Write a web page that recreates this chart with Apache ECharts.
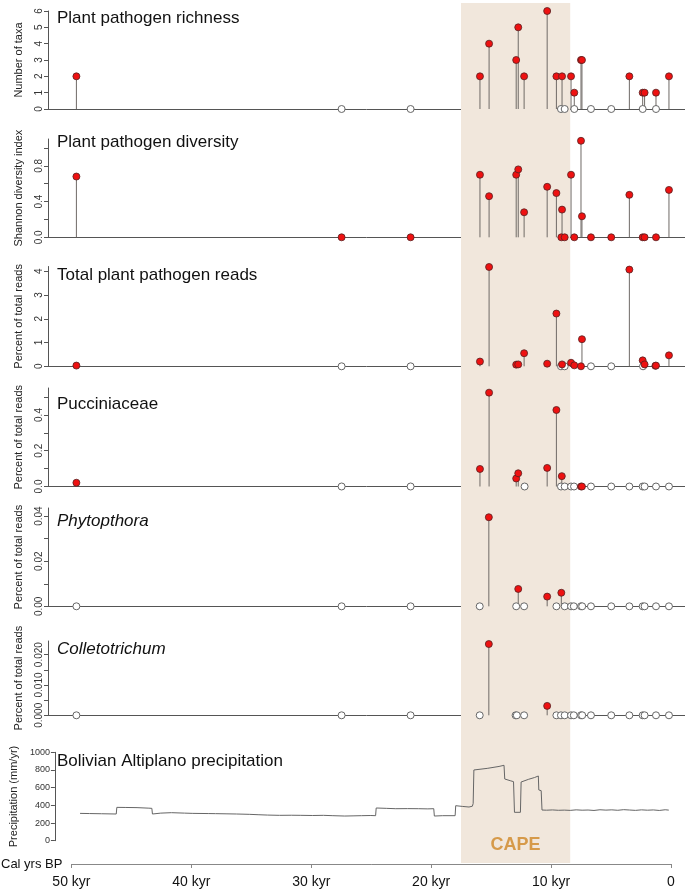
<!DOCTYPE html>
<html><head><meta charset="utf-8">
<script src="https://cdn.jsdelivr.net/npm/echarts@6/dist/echarts.min.js"></script>
<style>html,body{margin:0;padding:0;background:#fff}#c{width:685px;height:893px}</style>
</head><body><div id="c"></div>
<script>
// ---- data ----
const xTickValues = [0, 10, 20, 30, 40, 50];
const capeRange = [17.5, 8.4];

const richnessFilled = [[49.55,2],[15.92,2],[15.16,4],[12.9,3],[12.73,5],[12.24,2],[10.32,6],[9.55,2],[9.08,2],[8.33,2],[8.06,1],[7.5,3],[7.42,3],[3.47,2],[2.36,1],[2.2,1],[1.25,1],[0.17,2]];
const richnessOpen = [27.45,21.7,9.17,8.86,8.06,6.67,4.98,2.36,1.25];

const diversityFilled = [[49.55,0.68],[27.45,0],[21.7,0],[15.92,0.70],[15.16,0.46],[12.9,0.70],[12.73,0.76],[12.24,0.28],[10.32,0.565],[9.55,0.495],[9.08,0.31],[9.14,0],[8.86,0],[8.33,0.70],[8.06,0],[7.5,1.08],[7.42,0.235],[6.67,0],[4.98,0],[3.47,0.475],[2.36,0],[2.2,0],[1.25,0],[0.17,0.53]];
const diversityOpen = [];

const readsFilled = [[49.55,0.03],[15.92,0.2],[15.16,4.18],[12.9,0.07],[12.73,0.08],[12.24,0.55],[10.32,0.11],[9.55,2.22],[9.08,0.08],[8.33,0.15],[8.06,0.04],[7.5,0],[7.42,1.14],[3.47,4.07],[2.36,0.25],[2.2,0.08],[1.3,0.02],[1.25,0.03],[0.17,0.46]];
const readsOpen = [27.45,21.7,9.17,8.86,6.67,4.98,2.33];

const pucciniaceaeFilled = [[49.55,0.021],[15.92,0.098],[15.16,0.525],[12.9,0.045],[12.73,0.074],[10.32,0.104],[9.55,0.428],[9.1,0.058],[7.5,0],[7.42,0]];
const pucciniaceaeOpen = [27.45,21.7,12.2,9.17,8.86,8.33,8.08,6.67,4.98,3.47,2.36,2.2,1.25,0.17];

const phytoFilled = [[15.18,0.0395],[12.73,0.0077],[10.32,0.0043],[9.14,0.006]];
const phytoOpen = [49.55,27.45,21.7,15.94,12.9,12.24,9.55,8.86,8.33,8.1,7.5,7.4,6.67,4.98,3.47,2.36,2.2,1.25,0.17];

const colletoFilled = [[15.18,0.0235],[10.32,0.0031]];
const colletoOpen = [49.55,27.45,21.7,15.94,12.95,12.85,12.24,9.55,9.17,8.86,8.33,8.1,7.5,7.4,6.67,4.98,3.47,2.36,2.2,1.25,0.17];

const precipAge = [49.8,49.0,48.0,46.75,46.7,46.0,45.0,44.0,43.75,43.7,43.0,42.1,41.0,40.3,39.0,38.4,37.5,36.6,35.5,34.8,34.0,33.0,32.0,31.2,30.2,29.3,28.5,27.5,26.8,26.1,25.3,24.9,24.85,24.0,23.2,22.2,21.3,20.5,20.0,19.95,19.25,18.2,18.15,17.6,17.03,16.75,16.68,16.62,15.5,14.5,14.08,14.02,13.56,13.28,13.2,12.7,12.64,12.0,11.5,11.19,11.15,10.95,10.88,10.5,10.0,9.5,9.0,8.5,8.0,7.5,7.0,6.5,6.0,5.5,5.0,4.5,4.0,3.5,3.0,2.5,2.0,1.5,1.0,0.5,0.2];
const precipVal = [309,307,305,302,377,376,374,368,366,302,312,317,312,309,307,306,304,302,298,294,290,287,288,287,285,287,283,279,281,283,285,283,370,366,362,363,362,360,362,279,283,283,396,388,381,390,420,800,818,840,853,698,679,668,321,321,664,695,715,732,574,566,347,345,348,344,346,343,349,345,347,342,350,346,349,344,351,347,343,349,345,348,342,350,346];

const panelTitles = ['Plant pathogen richness','Plant pathogen diversity','Total plant pathogen reads','Pucciniaceae','Phytopthora','Colletotrichum','Bolivian Altiplano precipitation'];
const panelYNames = ['Number of taxa','Shannon diversity index','Percent of total reads','Percent of total reads','Percent of total reads','Percent of total reads','Precipitation (mm/yr)'];
const yTicks = [[0,1,2,3,4,5,6],[0,0.2,0.4,0.6,0.8,1.0],[0,1,2,3,4],[0,0.1,0.2,0.3,0.4,0.5],[0,0.01,0.02,0.03,0.04],[0,0.005,0.01,0.015,0.02],[0,200,400,600,800,1000]];
const yLabels = [[0,1,2,3,4,5,6],[0,0.4,0.8],[0,1,2,3,4],[0,0.2,0.4],[0,0.02,0.04],[0,0.01,0.02],[0,200,400,600,800,1000]];

// ---- layout ----
const yMax = [6, 1.1, 4.2, 0.551, 0.0436, 0.0245, 1000];
const labelDecimals = [0,1,0,1,2,3,0];
const gridTop = [11, 139, 266.5, 388, 508, 641, 752.3];
const gridBase = [109, 237.3, 366.3, 486.5, 606.3, 715.3, 840.7];
const titleTop = [10, 134, 267, 396, 513, 641, 753];
const X_MIN = -1.1667, X_MAX = 51.9167;

const filledSets = [richnessFilled, diversityFilled, readsFilled, pucciniaceaeFilled, phytoFilled, colletoFilled];
const openSets = [richnessOpen, diversityOpen, readsOpen, pucciniaceaeOpen, phytoOpen, colletoOpen];

const FONT = 'Liberation Sans, Arial, sans-serif';
const grids = [], xAxes = [], yAxes = [], series = [], titles = [];

for (let i = 0; i < 7; i++) {
  grids.push({left: 48, right: 0, top: gridTop[i], height: gridBase[i] - gridTop[i]});
  xAxes.push({type:'value', gridIndex:i, min:X_MIN, max:X_MAX, inverse:true,
    axisLine:{show: i < 6, onZero:false, lineStyle:{color:'#555', width:1}},
    axisTick:{show:false}, axisLabel:{show:false}, splitLine:{show:false}});
  const dec = labelDecimals[i];
  yAxes.push({type:'value', gridIndex:i, min:0, max:yMax[i], position:'left',
    name: panelYNames[i], nameLocation:'middle', nameRotate:90, nameGap: i===6 ? 28 : 24,
    nameTextStyle:{fontSize:11, color:'#222', fontFamily:FONT},
    axisLine:{show:true, onZero:false, lineStyle:{color:'#555', width:1}},
    axisTick:{show:true, length:4, lineStyle:{color:'#555'}, customValues: yTicks[i]},
    axisLabel:{show:true, rotate: i===6 ? 0 : 90, fontSize: i===6 ? 9 : 10, color:'#333', margin: i===6 ? 5 : 4,
      fontFamily:FONT, customValues: yLabels[i], formatter: v => Number(v).toFixed(dec)},
    splitLine:{show:false}});
  titles.push({text: panelTitles[i], left: 57, top: titleTop[i], padding:0,
    textStyle:{fontSize:17, fontWeight:'normal', color:'#111', fontFamily:FONT, fontStyle: (i===4||i===5)?'italic':'normal'}});
}

for (let i = 0; i < 6; i++) {
  series.push({type:'custom', xAxisIndex:i, yAxisIndex:i, data: filledSets[i], z:3,
    renderItem: (params, api) => {
      const p0 = api.coord([api.value(0), 0]);
      const p1 = api.coord([api.value(0), api.value(1)]);
      return {type:'line', shape:{x1:p0[0], y1:p0[1], x2:p1[0], y2:p1[1]}, style:{stroke:'#6f6a66', lineWidth:1}};
    }, encode:{x:0, y:1}, silent:true});
  series.push({type:'scatter', xAxisIndex:i, yAxisIndex:i, data: openSets[i].map(a => [a, 0]), clip:false, z:4,
    symbol:'circle', symbolSize:7, itemStyle:{color:'#ffffff', borderColor:'#666', borderWidth:1, opacity:1}, silent:true});
  series.push({type:'scatter', xAxisIndex:i, yAxisIndex:i, data: filledSets[i], clip:false, z:5,
    symbol:'circle', symbolSize:7, itemStyle:{color:'#ee1111', borderColor:'#552222', borderWidth:0.8, opacity:1}, silent:true});
}
series.push({type:'line', xAxisIndex:6, yAxisIndex:6, data: precipAge.map((a, k) => [a, precipVal[k]]),
  showSymbol:false, lineStyle:{color:'#666', width:1}, z:3, silent:true});

// bottom age axis
grids.push({left:71, width:600, top:800, height:64});
xAxes.push({type:'value', gridIndex:7, min:0, max:50, interval:10, inverse:true,
  name:'Cal yrs BP', nameLocation:'end', nameGap:9,
  nameTextStyle:{fontSize:13, color:'#111', fontFamily:FONT, verticalAlign:'middle'},
  axisLine:{show:true, onZero:false, lineStyle:{color:'#888', width:1}},
  axisTick:{show:true, length:4, inside:false, lineStyle:{color:'#888'}},
  axisLabel:{show:true, fontSize:14, color:'#111', margin:11, fontFamily:FONT, customValues: xTickValues,
    formatter: v => v === 0 ? '0' : v + ' kyr'},
  splitLine:{show:false}});
yAxes.push({type:'value', gridIndex:7, min:0, max:1, show:false});
series.push({type:'scatter', xAxisIndex:7, yAxisIndex:7, data:[], silent:true});

// CAPE band background
grids.push({left:48, right:0, top:3, height:860});
xAxes.push({type:'value', gridIndex:8, min:X_MIN, max:X_MAX, inverse:true, show:false});
yAxes.push({type:'value', gridIndex:8, min:0, max:1, show:false});
series.push({type:'scatter', xAxisIndex:8, yAxisIndex:8, data:[[capeRange[0], 0.5]], symbolSize:0, z:-10, silent:true,
  markArea:{silent:true, itemStyle:{color:'#f1e7dc'},
    label:{show:true, position:'insideBottom', distance:9, formatter:'CAPE', color:'#d69a4a', fontSize:18, fontWeight:'bold', fontFamily:FONT},
    data:[[{xAxis:capeRange[0]}, {xAxis:capeRange[1]}]]}});

const chart = echarts.init(document.getElementById('c'), null, {renderer:'canvas'});
chart.setOption({animation:false, backgroundColor:'#fff', title:titles, grid:grids, xAxis:xAxes, yAxis:yAxes, series:series});
</script></body></html>
